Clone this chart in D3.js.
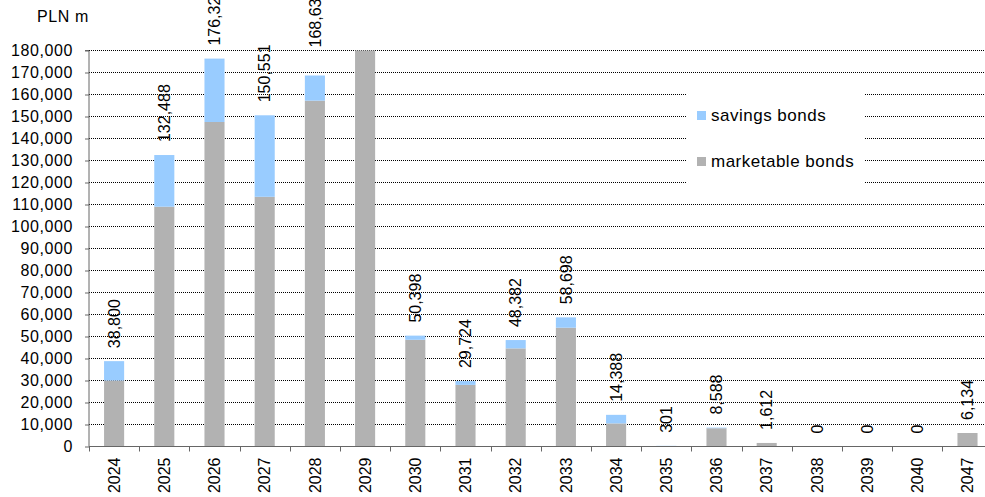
<!DOCTYPE html>
<html>
<head>
<meta charset="utf-8">
<script src="https://cdn.jsdelivr.net/npm/d3@7"></script>
<style>
  body { margin: 0; background: #fff; }
  text { font-family: "Liberation Sans", Arial, sans-serif; fill: #000; }
</style>
</head>
<body>
<script>
(function(){

  //chart data, PLN m
  var years = ["2024", "2025", "2026", "2027", "2028", "2029", "2030", "2031", "2032", "2033", "2034", "2035", "2036", "2037", "2038", "2039", "2040", "2047"];
  var marketable = [30000, 109000, 147500, 113500, 157200, 180000, 48500, 28000, 44600, 54000, 10500, 0, 8300, 1612, 0, 0, 0, 6134];
  var savings = [8800, 23488, 28820, 37051, 11430, 0, 1898, 1724, 3782, 4698, 3888, 301, 288, 0, 0, 0, 0, 0];
  var yTicks = [0, 10000, 20000, 30000, 40000, 50000, 60000, 70000, 80000, 90000, 100000, 110000, 120000, 130000, 140000, 150000, 160000, 170000, 180000];
  var seriesNames = ["savings bonds", "marketable bonds"];
  var seriesColors = ["#99ccff", "#b2b2b2"];

  var width = 985, height = 497;
  var left = 89, bottom = 446.5, top = 50.5;

  var svg = d3.select("body").append("svg")
    .attr("width", width)
    .attr("height", height);

  //build rows for the stack
  var rows = years.map(function(yr, i){
    return {year: yr, marketable: marketable[i], savings: savings[i]};
  });
  var stack = d3.stack().keys(["marketable", "savings"])(rows);

  var x = d3.scaleBand() //plot runs past the right edge of the picture
    .domain(years)
    .range([left, left + years.length * 50.2])
    .paddingInner(0.6)
    .paddingOuter(0.3);

  var y = d3.scaleLinear()
    .domain([0, 180000])
    .range([bottom, top]);

  var fmt = d3.format(",");

  //dotted gridlines
  svg.append("g").selectAll("line")
    .data(yTicks.filter(function(d){ return d > 0; }))
    .enter().append("line")
    .attr("x1", left).attr("x2", width)
    .attr("y1", function(d){ return y(d); })
    .attr("y2", function(d){ return y(d); })
    .attr("stroke", "#000")
    .attr("stroke-width", 1)
    .attr("stroke-dasharray", "1,1");

  //stacked bars
  svg.append("g").selectAll("g")
    .data(stack)
    .enter().append("g")
    .attr("fill", function(d){ return d.key == "savings" ? seriesColors[0] : seriesColors[1]; })
    .selectAll("rect")
    .data(function(d){ return d; })
    .enter().append("rect")
    .attr("x", function(d){ return x(d.data.year); })
    .attr("width", x.bandwidth())
    .attr("y", function(d){ return y(Math.min(d[1], 180000)); })
    .attr("height", function(d){ return y(d[0]) - y(Math.min(d[1], 180000)); });

  //y axis
  var yAxis = d3.axisLeft(y)
    .tickValues(yTicks)
    .tickSize(4)
    .tickPadding(12)
    .tickFormat(fmt);
  var yg = svg.append("g")
    .attr("transform", "translate(" + left + ",0)")
    .call(yAxis);
  yg.select(".domain").attr("stroke", "#666").attr("d", "M-4," + top + "H0V" + bottom);
  yg.selectAll(".tick line").attr("stroke", "#666");
  yg.selectAll("text")
    .style("font-size", "16px")
    .style("letter-spacing", "0.6px")
    .style("font-family", "'Liberation Sans', Arial, sans-serif");

  //x axis line and boundary ticks
  svg.append("line")
    .attr("x1", left).attr("x2", width)
    .attr("y1", bottom).attr("y2", bottom)
    .attr("stroke", "#666");
  svg.append("g").selectAll("line")
    .data(d3.range(years.length + 1))
    .enter().append("line")
    .attr("x1", function(i){ return Math.round(left + i * x.step()) + 0.5; })
    .attr("x2", function(i){ return Math.round(left + i * x.step()) + 0.5; })
    .attr("y1", bottom).attr("y2", bottom + 5)
    .attr("stroke", "#666");

  //year labels, rotated
  svg.append("g").selectAll("text")
    .data(years)
    .enter().append("text")
    .attr("transform", function(d){
      return "translate(" + (x(d) + x.bandwidth() / 2) + "," + (bottom + 11) + ") rotate(-90)";
    })
    .attr("text-anchor", "end")
    .attr("dy", "0.35em")
    .style("font-size", "16px")
    .text(function(d){ return d; });

  //total labels above bars (hidden when bar is clipped at the axis max)
  var lift = {"2028": 15}; //Excel nudged this one upward
  svg.append("g").selectAll("text")
    .data(rows.filter(function(d){ return d.marketable + d.savings < 180000; }))
    .enter().append("text")
    .attr("transform", function(d){
      var ty = y(d.marketable + d.savings) - 13 - (lift[d.year] || 0);
      return "translate(" + (x(d.year) + x.bandwidth() / 2) + "," + ty + ") rotate(-90)";
    })
    .attr("text-anchor", "start")
    .attr("dy", "0.35em")
    .style("font-size", "16px")
    .text(function(d){ return fmt(d.marketable + d.savings); });

  //unit label
  svg.append("text")
    .attr("x", 37).attr("y", 22)
    .style("font-size", "16px")
    .style("letter-spacing", "0.6px")
    .text("PLN m");

  //legend on a white box
  var legend = svg.append("g");
  legend.append("rect")
    .attr("x", 686).attr("y", 86)
    .attr("width", 178).attr("height", 110)
    .attr("fill", "#fff");
  var items = legend.selectAll("g")
    .data(seriesNames)
    .enter().append("g")
    .attr("transform", function(d, i){ return "translate(697," + (111 + i * 46) + ")"; });
  items.append("rect")
    .attr("width", 9).attr("height", 9)
    .attr("fill", function(d, i){ return seriesColors[i]; });
  items.append("text")
    .attr("x", 14).attr("y", 10)
    .style("font-size", "17px")
    .style("letter-spacing", "0.5px")
    .text(function(d){ return d; });
})();
</script>
</body>
</html>
